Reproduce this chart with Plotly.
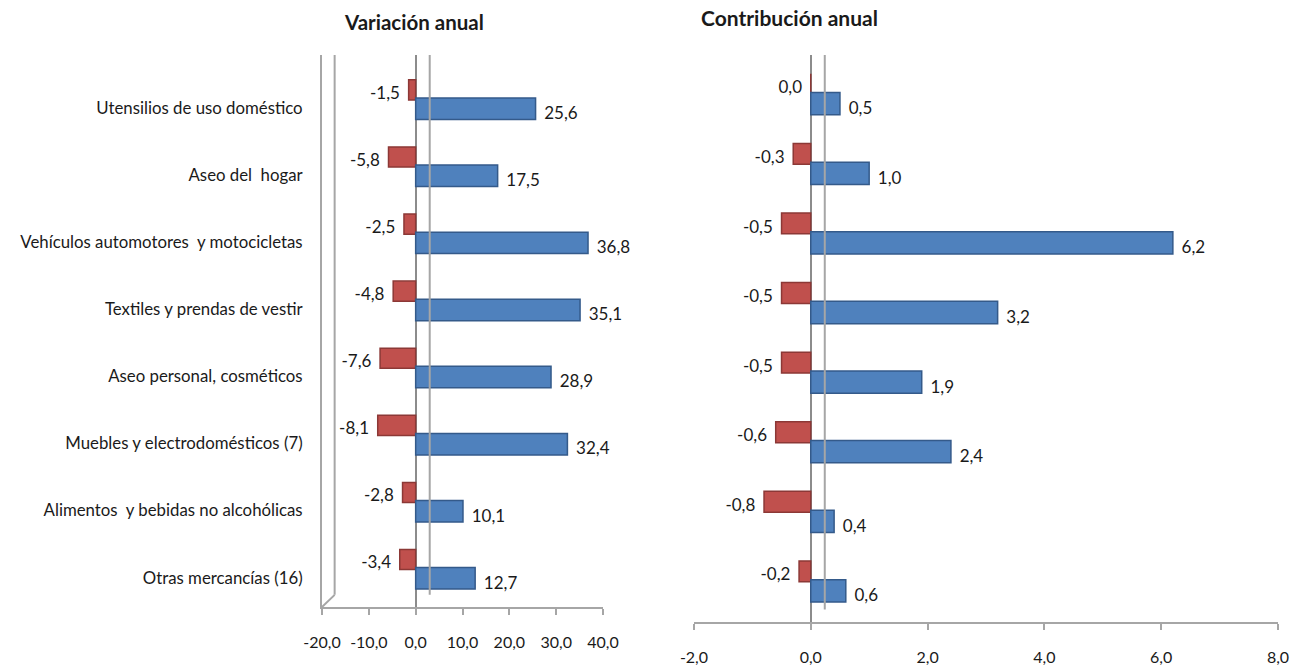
import plotly.graph_objects as go

categories = [
    'Utensilios de uso doméstico',
    'Aseo del  hogar',
    'Vehículos automotores  y motocicletas',
    'Textiles y prendas de vestir',
    'Aseo personal, cosméticos',
    'Muebles y electrodomésticos (7)',
    'Alimentos  y bebidas no alcohólicas',
    'Otras mercancías (16)',
]
var_red = [-1.5, -5.8, -2.5, -4.8, -7.6, -8.1, -2.8, -3.4]
var_blue = [25.6, 17.5, 36.8, 35.1, 28.9, 32.4, 10.1, 12.7]
con_red = [0.0, -0.3, -0.5, -0.5, -0.5, -0.6, -0.8, -0.2]
con_blue = [0.5, 1.0, 6.2, 3.2, 1.9, 2.4, 0.4, 0.6]

var_ticks = [-20, -10, 0, 10, 20, 30, 40]
var_ticktext = ['-20,0', '-10,0', '0,0', '10,0', '20,0', '30,0', '40,0']
con_ticks = [-2, 0, 2, 4, 6, 8]
con_ticktext = ['-2,0', '0,0', '2,0', '4,0', '6,0', '8,0']

RED = '#C0504D'
RED_EDGE = '#8C3836'
BLUE = '#4F81BD'
BLUE_EDGE = '#345A8A'
GRAY = '#A6A6A6'
TXT = '#1a1a1a'
FONT = 'Lato'

pos = list(range(len(categories)))


def fmt(v):
    return f'{v:.1f}'.replace('.', ',')


fig = go.Figure()

panels = [
    ('x', 'y', var_red, var_blue),
    ('x2', 'y2', con_red, con_blue),
]
for xa, ya, reds, blues in panels:
    fig.add_trace(go.Bar(
        x=reds, y=pos, orientation='h', offset=-0.42, width=0.3,
        marker=dict(color=RED, line=dict(color=RED_EDGE, width=1.5)),
        xaxis=xa, yaxis=ya, showlegend=False, hoverinfo='x'
    ))
    fig.add_trace(go.Bar(
        x=blues, y=pos, orientation='h', offset=-0.15, width=0.32,
        marker=dict(color=BLUE, line=dict(color=BLUE_EDGE, width=1.5)),
        xaxis=xa, yaxis=ya, showlegend=False, hoverinfo='x'
    ))
    fig.add_trace(go.Scatter(
        x=[min(v, 0) for v in reds], y=[p - 0.2 for p in pos],
        mode='text', text=[fmt(v) + '  ' for v in reds],
        textposition='middle left', cliponaxis=False,
        textfont=dict(size=17, color=TXT, family=FONT),
        xaxis=xa, yaxis=ya, showlegend=False, hoverinfo='skip'
    ))
    fig.add_trace(go.Scatter(
        x=blues, y=[p + 0.1 for p in pos],
        mode='text', text=['  ' + fmt(v) for v in blues],
        textposition='middle right', cliponaxis=False,
        textfont=dict(size=17, color=TXT, family=FONT),
        xaxis=xa, yaxis=ya, showlegend=False, hoverinfo='skip'
    ))

axis_common = dict(
    showgrid=False, showline=True, linecolor=GRAY, linewidth=2,
    ticks='outside', ticklen=6, tickcolor=GRAY, tickwidth=2,
    zeroline=True, zerolinecolor='#8C8C8C', zerolinewidth=2,
    tickfont=dict(size=16, color=TXT, family=FONT), automargin=False,
)

fig.update_layout(
    width=1301, height=666,
    margin=dict(l=0, r=0, t=0, b=0),
    paper_bgcolor='white', plot_bgcolor='white',
    barmode='overlay',
    font=dict(family=FONT, color=TXT),
    xaxis=dict(domain=[0.2475, 0.4635], range=[-20, 40],
               tickvals=var_ticks, ticktext=var_ticktext, ticklabelstandoff=14,
               anchor='y', **axis_common),
    yaxis=dict(domain=[0.0886, 0.9174], range=[7.437, -0.79],
               tickvals=pos, ticktext=categories, showline=True,
               linecolor=GRAY, linewidth=2, ticks='', showgrid=False,
               zeroline=False, ticklabelstandoff=14, automargin=False,
               tickfont=dict(size=16.8, color=TXT, family=FONT), anchor='x'),
    xaxis2=dict(domain=[0.5334, 0.9823], range=[-2, 8],
                tickvals=con_ticks, ticktext=con_ticktext, ticklabelstandoff=14,
                anchor='y2', **axis_common),
    yaxis2=dict(domain=[0.0661, 0.9174], range=[7.457, -0.69],
                showticklabels=False, ticks='', showline=False, automargin=False,
                showgrid=False, zeroline=False, anchor='x2'),
    annotations=[
        dict(text='<b>Variación anual</b>', x=0.318, y=0.967, xref='paper', yref='paper',
             xanchor='center', yanchor='middle', showarrow=False,
             font=dict(size=20.5, color=TXT, family=FONT)),
        dict(text='<b>Contribución anual</b>', x=0.607, y=0.973, xref='paper', yref='paper',
             xanchor='center', yanchor='middle', showarrow=False,
             font=dict(size=21, color=TXT, family=FONT)),
    ],
    shapes=[
        # 3D back wall lines
        dict(type='line', xref='x domain', yref='y domain', x0=0.045, x1=0.045, y0=0.022, y1=1,
             line=dict(color=GRAY, width=2)),
        dict(type='line', xref='x domain', yref='y domain', x0=0, x1=0.045, y0=0, y1=0.022,
             line=dict(color=GRAY, width=2)),
        dict(type='line', xref='x', yref='y domain', x0=3, x1=3, y0=0.022, y1=1,
             line=dict(color=GRAY, width=2)),
        dict(type='line', xref='x2', yref='y2 domain', x0=0.24, x1=0.24, y0=0.022, y1=1,
             line=dict(color=GRAY, width=2)),
    ],
)

fig.write_html('out.html', config={'displayModeBar': False},
               post_script="document.body.style.margin='0';")
